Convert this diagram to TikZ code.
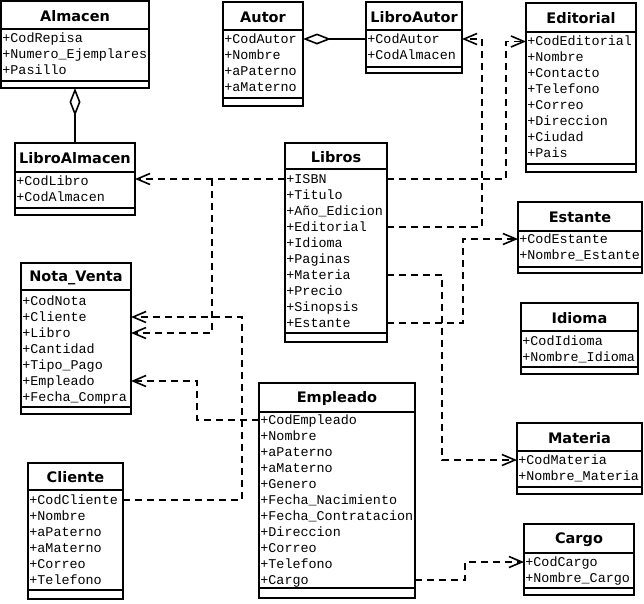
\documentclass[tikz,border=0pt]{standalone}
\usepackage{fontspec}
\newfontfamily\titlefont{DejaVu Sans}
\newfontfamily\attrfont{Liberation Mono}
\usetikzlibrary{arrows.meta}
\tikzset{
  boxline/.style={line width=1.8pt, draw=black},
  titletext/.style={font=\titlefont\bfseries\fontsize{14.5}{16}\selectfont, inner sep=0pt},
  attrtext/.style={font=\attrfont\fontsize{13.4}{15}\selectfont, anchor=west, inner xsep=1.2pt, inner ysep=0pt, text height=8pt, text depth=0pt},
  dep/.style={line width=1.6pt, dash pattern=on 7pt off 5pt, -{Straight Barb[length=13pt,width=11pt]}},
  agg/.style={line width=1.6pt, -{Diamond[open,length=28pt,width=11pt]}},
}
% #1 name, #2 x1, #3 y1, #4 x2, #5 title bottom, #6 attributes bottom, #7 y2, #8 title
\newcommand{\umlclass}[8]{%
  \draw[boxline] (#2,#3) rectangle (#4,#7);
  \draw[boxline] (#2,#5) -- (#4,#5);
  \draw[boxline] (#2,#6) -- (#4,#6);
  \node[titletext] (#1) at ({(#2+#4)/2},{(#3+#5)/2+1}) {#8};
  \coordinate (#1-top) at ({(#2+#4)/2},#3);
  \coordinate (#1-bot) at ({(#2+#4)/2},#7);
}
% #1 name, #2 x1, #3 x2, #4 first row y, #5 list
\newcommand{\umlattrs}[5]{%
  \foreach \a [count=\i] in {#5} {
    \node[attrtext] (#1-t\i) at (#2,{#4+(\i-1)*16}) {\a};
    \coordinate (#1-\i-w) at (#2,{#4+(\i-1)*16});
    \coordinate (#1-\i-e) at (#3,{#4+(\i-1)*16});
  }
}
\begin{document}
\begin{tikzpicture}[x=1pt,y=-1pt]
\useasboundingbox (0,0) rectangle (644,603);

\umlclass{alm}{1}{1}{149}{29}{81}{88}{Almacen}
\umlattrs{alm}{1}{149}{38}{+CodRepisa,+Numero\_Ejemplares,+Pasillo}

\umlclass{autor}{223}{2}{303}{30}{98}{106}{Autor}
\umlattrs{autor}{223}{303}{39}{+CodAutor,+Nombre,+aPaterno,+aMaterno}

\umlclass{lautor}{366}{2}{462}{30}{67}{73}{LibroAutor}
\umlattrs{lautor}{366}{462}{39}{+CodAutor,+CodAlmacen}

\umlclass{edit}{526}{3}{636}{32}{164}{172}{Editorial}
\umlattrs{edit}{526}{636}{41.5}{+CodEditorial,+Nombre,+Contacto,+Telefono,+Correo,+Direccion,+Ciudad,+Pais}

\umlclass{lalm}{15}{143}{135}{172}{208}{215}{LibroAlmacen}
\umlattrs{lalm}{15}{135}{181}{+CodLibro,+CodAlmacen}

\umlclass{libros}{285}{143}{387}{169}{333}{342}{Libros}
\umlattrs{libros}{285}{387}{179}{+ISBN,+Titulo,+Año\_Edicion,+Editorial,+Idioma,+Paginas,+Materia,+Precio,+Sinopsis,+Estante}

\umlclass{nota}{21}{263}{131}{290}{407}{414}{Nota\_Venta}
\umlattrs{nota}{21}{131}{301}{+CodNota,+Cliente,+Libro,+Cantidad,+Tipo\_Pago,+Empleado,+Fecha\_Compra}

\umlclass{est}{518}{202}{642}{231}{267}{273}{Estante}
\umlattrs{est}{518}{642}{239}{+CodEstante,+Nombre\_Estante}

\umlclass{idi}{521}{303}{638}{331}{367}{374}{Idioma}
\umlattrs{idi}{521}{638}{341}{+CodIdioma,+Nombre\_Idioma}

\umlclass{mat}{517}{423}{642}{451}{487}{494}{Materia}
\umlattrs{mat}{517}{642}{460}{+CodMateria,+Nombre\_Materia}

\umlclass{emp}{259}{383}{415}{412}{588}{598}{Empleado}
\umlattrs{emp}{259}{415}{420}{+CodEmpleado,+Nombre,+aPaterno,+aMaterno,+Genero,+Fecha\_Nacimiento,+Fecha\_Contratacion,+Direccion,+Correo,+Telefono,+Cargo}

\umlclass{cli}{28}{463}{123}{490}{590}{599}{Cliente}
\umlattrs{cli}{28}{123}{500}{+CodCliente,+Nombre,+aPaterno,+aMaterno,+Correo,+Telefono}

\umlclass{cargo}{524}{524}{634}{553}{588}{595}{Cargo}
\umlattrs{cargo}{524}{634}{562}{+CodCargo,+Nombre\_Cargo}

% junction columns
\coordinate (jLib) at (212,0);
\coordinate (jEd) at (506,0);
\coordinate (jLA) at (482,0);
\coordinate (jMat) at (442,0);
\coordinate (jEst) at (463,0);
\coordinate (jCli) at (242,0);
\coordinate (jEmp) at (197,0);
\coordinate (jCar) at (465,0);

% aggregations
\draw[agg] (lautor-1-w) -- (autor-1-e);
\draw[agg] (lalm-top) -- (alm-bot);

% dependencies
\draw[dep] (libros-1-w) -- (libros-1-w -| lalm-1-e);
\draw[dep] (libros-1-w -| jLib) |- (nota-3-e);
\draw[dep] (libros-1-e) -- (libros-1-e -| jEd) |- (edit-1-w);
\draw[dep] (libros-4-e) -- (libros-4-e -| jLA) |- (lautor-1-e);
\draw[dep] (libros-7-e) -- (libros-7-e -| jMat) |- (mat-1-w);
\draw[dep] (libros-10-e) -- (libros-10-e -| jEst) |- (est-1-w);
\draw[dep] (cli-1-e) -- (cli-1-e -| jCli) |- (nota-2-e);
\draw[dep] (emp-1-w) -- (emp-1-w -| jEmp) |- (nota-6-e);
\draw[dep] (emp-11-e) -- (emp-11-e -| jCar) |- (cargo-1-w);
\end{tikzpicture}
\end{document}
